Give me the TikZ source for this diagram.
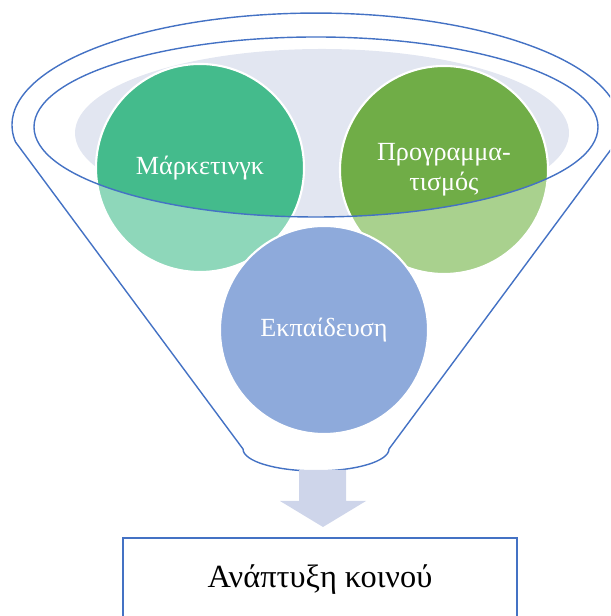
\documentclass[tikz,border=0pt]{standalone}
\usepackage{fontspec}
\setmainfont{Liberation Serif}
\usetikzlibrary{positioning}

\definecolor{rimblue}{HTML}{4472C4}
\definecolor{haze}{HTML}{E2E6F1}
\definecolor{mkdark}{HTML}{44BB8C}
\definecolor{mklight}{HTML}{8ED7BA}
\definecolor{prdark}{HTML}{70AD47}
\definecolor{prlight}{HTML}{A9D18E}
\definecolor{edblue}{HTML}{8EAADB}
\definecolor{flow}{HTML}{CED5EA}

\tikzset{
  bubble/.style={circle, draw=white, line width=1.5pt, minimum size=5.2cm, inner sep=0pt,
    text=white, align=center, font=\fontsize{18.6}{21}\selectfont},
  rim/.style={rimblue, line width=1pt},
}

\begin{document}
\begin{tikzpicture}[x=0.025cm, y=0.025cm]
\clip (0,0) rectangle (610,616);

\coordinate (rimc) at (316,489);

% funnel body
\begin{scope}
  \clip (rimc) ellipse[x radius=282, y radius=90];
  \fill[haze] (322,483) ellipse[x radius=247, y radius=84];
\end{scope}
\draw[rim] (15.5,474) arc[start angle=188.7, end angle=-8.7, x radius=304, y radius=112]
  -- (389,167) arc[start angle=0, end angle=-180, x radius=73, y radius=22] -- cycle;

% the three inputs
\node[bubble, fill=mklight,
  path picture={\fill[mkdark] (rimc) ellipse[x radius=282, y radius=90];}] (mk) at (200,448) {Μάρκετινγκ};
\node[bubble, fill=prlight,
  path picture={\fill[prdark] (rimc) ellipse[x radius=282, y radius=90];}] (pr) at (444,446) {Προγραμμα-\\τισμός};
\draw[rim] (rimc) ellipse[x radius=282, y radius=90];
\node[bubble, fill=edblue] (ed) at (324,286) {Εκπαίδευση};

% outcome
\fill[flow] (299,146) -- (346,146) -- (346,115) -- (366,115) -- (323,89) -- (280,115) -- (299,115) -- cycle;
\node[draw=rimblue, line width=1.2pt, minimum width=9.85cm, minimum height=2.1cm,
  font=\fontsize{23}{27}\selectfont] (goal) at (320,36) {Ανάπτυξη κοινού};

\end{tikzpicture}
\end{document}
